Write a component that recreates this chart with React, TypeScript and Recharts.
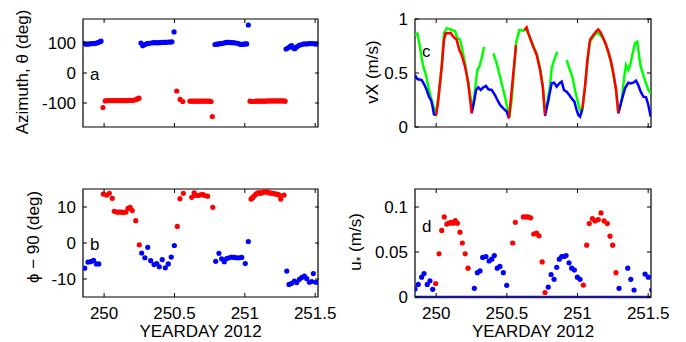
import React from 'react';
import { ScatterChart, Scatter, LineChart, Line, XAxis, YAxis, ReferenceArea, ReferenceLine } from 'recharts';

// x axis shared by all four panels
const DAY_DOMAIN: [number, number] = [249.85, 251.52];
const dayTicks = [250, 250.5, 251, 251.5];

// y ticks per panel
const azTicks = [-100, 0, 100];
const phiTicks = [-10, 0, 10];
const vxTicks = [0, 0.5, 1];
const uTicks = [0, 0.05, 0.1];

// panel a: azimuth (deg), [yearday, value]
const azBlue = [
  [249.85, 99], [249.865, 97], [249.88, 96], [249.895, 97], [249.91, 98], [249.925, 98], [249.94, 99], [249.955, 101], [249.968, 104], [249.978, 106],
  [250.262, 100], [250.275, 91], [250.29, 95], [250.305, 98], [250.32, 99], [250.335, 100], [250.35, 101], [250.365, 101], [250.38, 101], [250.395, 101],
  [250.41, 102], [250.425, 102], [250.44, 102], [250.455, 103], [250.47, 103], [250.482, 104], [250.497, 137],
  [250.788, 95], [250.802, 96], [250.816, 97], [250.83, 98], [250.845, 99], [250.86, 101], [250.875, 102], [250.89, 102], [250.905, 101], [250.92, 101],
  [250.935, 100], [250.95, 99], [250.965, 96], [250.978, 95], [250.99, 96], [251.003, 97], [251.013, 97], [251.025, 160],
  [251.293, 80], [251.309, 84], [251.322, 89], [251.333, 91], [251.345, 83], [251.355, 81], [251.369, 87], [251.385, 92], [251.404, 95], [251.42, 97],
  [251.44, 97], [251.455, 98], [251.47, 98], [251.485, 98], [251.5, 97], [251.515, 97],
];
const azRed = [
  [249.992, -115], [250.008, -93], [250.022, -92], [250.036, -92], [250.05, -92], [250.064, -92], [250.078, -92], [250.092, -92], [250.106, -92], [250.12, -92],
  [250.134, -92], [250.148, -92], [250.162, -92], [250.176, -91], [250.19, -91], [250.204, -91], [250.218, -90], [250.23, -88], [250.24, -85], [250.248, -84],
  [250.516, -60], [250.54, -88], [250.559, -95],
  [250.61, -94], [250.624, -94], [250.638, -94], [250.652, -94], [250.666, -94], [250.68, -94], [250.694, -94], [250.708, -94], [250.722, -94], [250.736, -94],
  [250.75, -94], [250.76, -95], [250.769, -145],
  [251.037, -94], [251.051, -95], [251.065, -95], [251.079, -94], [251.093, -94], [251.107, -94], [251.121, -94], [251.135, -94], [251.149, -94], [251.163, -93],
  [251.177, -93], [251.191, -93], [251.205, -93], [251.219, -93], [251.233, -93], [251.247, -93], [251.261, -93], [251.275, -93], [251.286, -94],
];

// panel b: phi - 90 (deg)
const phiBlue = [
  [249.862, -7.0], [249.885, -5.3], [249.905, -5.2], [249.925, -4.8], [249.945, -5.8], [249.962, -5.8],
  [250.267, -2.8], [250.29, -4.1], [250.31, -1.2], [250.331, -4.9], [250.355, -6.0], [250.374, -5.7], [250.392, -6.6], [250.413, -4.6], [250.435, -6.9],
  [250.456, -5.8], [250.477, -3.9], [250.499, -0.7],
  [250.793, -5.1], [250.816, -2.9], [250.835, -4.4], [250.854, -5.2], [250.871, -4.3], [250.889, -4.1], [250.906, -3.9], [250.925, -4.0], [250.942, -4.1],
  [250.961, -4.1], [250.978, -4.0], [251.003, -5.7], [251.025, 0.4],
  [251.298, -7.8], [251.314, -11.5], [251.333, -11.2], [251.352, -10.6], [251.369, -11.0], [251.388, -10.1], [251.404, -9.6], [251.423, -9.2], [251.44, -9.9],
  [251.459, -10.9], [251.476, -10.7], [251.487, -8.5], [251.506, -10.9], [251.522, -10.9],
];
const phiRed = [
  [249.994, 13.6], [250.018, 13.3], [250.037, 13.8], [250.058, 12.4],
  [250.072, 8.8], [250.09, 8.6], [250.105, 8.6], [250.12, 8.6], [250.135, 8.5], [250.155, 8.6], [250.17, 9.6], [250.185, 9.9], [250.2, 9.0], [250.225, 6.2],
  [250.25, -0.5],
  [250.52, 4.6], [250.539, 12.3], [250.563, 13.8], [250.623, 12.7], [250.64, 13.9], [250.655, 13.2], [250.67, 13.2], [250.685, 13.4], [250.7, 13.5],
  [250.715, 13.2], [250.735, 13.0], [250.772, 9.9],
  [251.044, 12.2], [251.052, 12.4], [251.06, 12.8], [251.07, 13.2], [251.079, 13.6], [251.088, 13.8], [251.096, 13.9], [251.105, 13.9], [251.113, 13.8],
  [251.124, 14.0], [251.136, 14.2], [251.148, 14.2], [251.16, 14.2], [251.17, 14.0], [251.179, 13.9], [251.19, 13.8], [251.198, 13.8], [251.21, 13.7],
  [251.222, 13.6], [251.233, 13.5], [251.245, 13.3], [251.255, 12.2], [251.279, 13.3],
];

// panel c: vX (m/s), null = gap in the line
const vxBlue = [
  [249.85, 0.481], [249.867, 0.444], [249.897, 0.435], [249.914, 0.398], [249.933, 0.343], [249.949, 0.281], [249.963, 0.25], [249.975, 0.188], [249.984, 0.117], [250.0, 0.111],
  [250.1, null],
  [250.251, 0.127], [250.27, 0.25], [250.282, 0.343], [250.298, 0.367], [250.315, 0.343], [250.334, 0.367], [250.352, 0.38], [250.369, 0.349], [250.393, 0.343],
  [250.416, 0.296], [250.433, 0.25], [250.452, 0.204], [250.475, 0.173], [250.499, 0.142], [250.515, 0.08],
  [250.6, null],
  [250.77, 0.102], [250.794, 0.25], [250.817, 0.404], [250.834, 0.41], [250.853, 0.373], [250.871, 0.404], [250.888, 0.42], [250.904, 0.343], [250.923, 0.327],
  [250.942, 0.296], [250.959, 0.265], [250.978, 0.235], [250.994, 0.157], [251.006, 0.111], [251.018, 0.096], [251.034, 0.164],
  [251.15, null],
  [251.289, 0.127], [251.313, 0.25], [251.336, 0.358], [251.36, 0.41], [251.376, 0.404], [251.395, 0.41], [251.414, 0.429], [251.43, 0.389], [251.447, 0.327],
  [251.466, 0.281], [251.485, 0.275], [251.501, 0.204], [251.518, 0.096],
];
const vxRed = [
  [250.0, 0.111], [250.015, 0.25], [250.039, 0.559], [250.055, 0.806], [250.067, 0.867], [250.086, 0.867], [250.102, 0.873], [250.121, 0.836], [250.145, 0.806],
  [250.164, 0.713], [250.18, 0.667], [250.204, 0.559], [250.227, 0.404], [250.251, 0.127],
  [250.4, null],
  [250.515, 0.08], [250.565, 0.759],
  [250.6, null],
  [250.624, 0.898], [250.64, 0.923], [250.652, 0.867], [250.669, 0.806], [250.687, 0.744], [250.711, 0.667], [250.735, 0.528], [250.754, 0.373], [250.77, 0.111],
  [250.9, null],
  [251.034, 0.164], [251.053, 0.373], [251.07, 0.62], [251.088, 0.806], [251.112, 0.852], [251.131, 0.883], [251.147, 0.904], [251.164, 0.873], [251.183, 0.821],
  [251.202, 0.759], [251.218, 0.698], [251.235, 0.62], [251.254, 0.497], [251.273, 0.343], [251.289, 0.127],
];
const vxGreen = [
  [249.85, 0.852], [249.867, 0.867], [249.885, 0.744], [249.897, 0.636], [249.909, 0.559], [249.928, 0.481], [249.944, 0.373], [249.961, 0.281], [249.98, 0.188],
  [249.999, 0.127], [250.015, 0.281], [250.039, 0.559], [250.055, 0.867], [250.074, 0.914], [250.102, 0.904], [250.133, 0.889], [250.15, 0.821], [250.168, 0.812],
  [250.18, 0.744], [250.204, 0.59], [250.227, 0.404], [250.246, 0.25], [250.258, 0.157], [250.275, 0.343], [250.291, 0.528], [250.305, 0.559], [250.322, 0.636],
  [250.338, 0.744],
  [250.37, null],
  [250.404, 0.682], [250.428, 0.59], [250.452, 0.466], [250.463, 0.404], [250.475, 0.343], [250.492, 0.25], [250.506, 0.157], [250.518, 0.09], [250.534, 0.25],
  [250.565, 0.775], [250.588, 0.898], [250.617, 0.892], [250.633, 0.904], [250.652, 0.867], [250.669, 0.812], [250.687, 0.744], [250.711, 0.682], [250.735, 0.543],
  [250.754, 0.389], [250.77, 0.127], [250.782, 0.188], [250.805, 0.373], [250.817, 0.543], [250.834, 0.62], [250.857, 0.698],
  [250.89, null],
  [250.923, 0.62], [250.942, 0.543], [250.963, 0.466], [250.982, 0.343], [250.999, 0.25], [251.018, 0.157], [251.034, 0.164], [251.053, 0.367], [251.07, 0.605],
  [251.088, 0.79], [251.112, 0.836], [251.131, 0.867], [251.147, 0.867], [251.164, 0.852], [251.183, 0.812], [251.202, 0.759], [251.218, 0.682], [251.235, 0.605],
  [251.254, 0.481], [251.273, 0.336], [251.289, 0.127], [251.313, 0.25], [251.331, 0.466], [251.343, 0.574], [251.36, 0.528], [251.376, 0.59], [251.39, 0.682],
  [251.407, 0.775], [251.423, 0.79], [251.438, 0.636], [251.447, 0.559], [251.466, 0.481], [251.485, 0.404], [251.501, 0.343], [251.518, 0.312],
];

// panel d: u* (m/s)
const uBlue = [
  [249.85, 0.009], [249.873, 0.014], [249.897, 0.022], [249.914, 0.026], [249.937, 0.014], [249.956, 0.018], [249.975, 0.0085],
  [250.27, 0.0096], [250.291, 0.027], [250.31, 0.029], [250.329, 0.044], [250.352, 0.045], [250.374, 0.04], [250.393, 0.042], [250.411, 0.046], [250.432, 0.032],
  [250.451, 0.034], [250.475, 0.027], [250.499, 0.013],
  [250.793, 0.011], [250.813, 0.025], [250.834, 0.0196], [250.853, 0.033], [250.871, 0.042], [250.888, 0.045], [250.904, 0.045], [250.919, 0.046], [250.94, 0.038],
  [250.959, 0.032], [250.978, 0.03], [250.999, 0.022], [251.018, 0.0196],
  [251.294, 0.0096], [251.355, 0.032], [251.377, 0.0196], [251.4, 0.0078], [251.478, 0.0255], [251.501, 0.022], [251.525, 0.0078],
];
const uRed = [
  [249.996, 0.015], [250.02, 0.048], [250.039, 0.074], [250.057, 0.089], [250.075, 0.081], [250.09, 0.082], [250.105, 0.083], [250.12, 0.082], [250.135, 0.085],
  [250.15, 0.082], [250.168, 0.072], [250.185, 0.06], [250.205, 0.048], [250.225, 0.032],
  [250.541, 0.06], [250.56, 0.083], [250.617, 0.089], [250.634, 0.089], [250.65, 0.089], [250.668, 0.088], [250.69, 0.07], [250.71, 0.071], [250.727, 0.068],
  [250.75, 0.039], [250.77, 0.005],
  [251.041, 0.0133], [251.065, 0.0576], [251.083, 0.0816], [251.105, 0.087], [251.124, 0.0845], [251.147, 0.086], [251.166, 0.0934], [251.188, 0.0845],
  [251.211, 0.0816], [251.23, 0.0676], [251.249, 0.0576], [251.272, 0.027],
];

const pts = (a: (number | null)[][]) => a.map(([t, v]) => ({ t, v }));

const BLUE = '#0000ff';
const RED = '#ff0000';
const GREEN = '#00ff00';
const FS = 17;
const PW = 236;
const PH = 108;

const dot = (color: string) => (p: any) => <circle cx={p.cx} cy={p.cy} r={2.6} fill={color} />;

const yTick = (fmt: (v: number) => string) => (p: any) => {
  const ax = p.x + 7;
  return (
    <g>
      <line x1={ax} y1={p.y} x2={ax + 4} y2={p.y} stroke="#000" />
      <line x1={ax + PW - 4} y1={p.y} x2={ax + PW} y2={p.y} stroke="#000" />
      <text x={p.x} y={p.y} dy="0.36em" textAnchor="end" fontSize={FS} fill="#000">{fmt(p.payload.value)}</text>
    </g>
  );
};

const xTick = (labels: boolean) => (p: any) => {
  const ay = p.y - (labels ? 10 : 0);
  return (
    <g>
      <line x1={p.x} y1={ay} x2={p.x} y2={ay - 4} stroke="#000" />
      <line x1={p.x} y1={ay - PH} x2={p.x} y2={ay - PH + 4} stroke="#000" />
      {labels && <text x={p.x} y={p.y} dy="0.71em" textAnchor="middle" fontSize={FS} fill="#000">{p.payload.value}</text>}
    </g>
  );
};

const axes = (bottom: boolean, yDomain: [number, number], yTicks: number[], fmt: (v: number) => string) => [
  <XAxis key="x" type="number" dataKey="t" domain={DAY_DOMAIN} allowDataOverflow ticks={dayTicks} interval={0}
    height={bottom ? 45 : 4} axisLine={false} tickLine={false} tickSize={0} tickMargin={bottom ? 10 : 0} tick={xTick(bottom)} />,
  <YAxis key="y" type="number" dataKey="v" domain={yDomain} allowDataOverflow ticks={yTicks} interval={0}
    width={83} axisLine={false} tickLine={false} tickSize={0} tickMargin={7} tick={yTick(fmt)} />,
];

const box = (yDomain: [number, number]) => (
  <ReferenceArea x1={DAY_DOMAIN[0]} x2={DAY_DOMAIN[1]} y1={yDomain[0]} y2={yDomain[1]}
    fill="none" stroke="#000" strokeWidth={1.2} ifOverflow="visible" />
);

const str = (v: number) => String(v);

const AZ_DOMAIN: [number, number] = [-180, 180];
const PHI_DOMAIN: [number, number] = [-15, 15];
const VX_DOMAIN: [number, number] = [0, 1];
const U_DOMAIN: [number, number] = [0, 0.12];

const topL = { top: 19, right: 32, bottom: 19, left: 0 };
const botL = { top: 19, right: 32, bottom: 0, left: 0 };
const topR = { top: 19, right: 35, bottom: 19, left: 0 };
const botR = { top: 19, right: 35, bottom: 0, left: 0 };

export default function App() {
  return (
    <div style={{ position: 'absolute', left: 0, top: 0, width: 686, height: 342, background: '#fff', overflow: 'hidden', fontFamily: '"Liberation Sans", Arial, sans-serif' }}>
      <div style={{ position: 'absolute', left: 0, top: 0 }}>
        <ScatterChart width={350} height={150} margin={topL}>
          {axes(false, AZ_DOMAIN, azTicks, str)}
          <Scatter data={pts(azBlue)} shape={dot(BLUE)} isAnimationActive={false} />
          <Scatter data={pts(azRed)} shape={dot(RED)} isAnimationActive={false} />
          {box(AZ_DOMAIN)}
        </ScatterChart>
      </div>
      <div style={{ position: 'absolute', left: 0, top: 170 }}>
        <ScatterChart width={350} height={172} margin={botL}>
          {axes(true, PHI_DOMAIN, phiTicks, str)}
          <Scatter data={pts(phiBlue)} shape={dot(BLUE)} isAnimationActive={false} />
          <Scatter data={pts(phiRed)} shape={dot(RED)} isAnimationActive={false} />
          {box(PHI_DOMAIN)}
        </ScatterChart>
      </div>
      <div style={{ position: 'absolute', left: 332, top: 0 }}>
        <LineChart width={354} height={150} margin={topR}>
          {axes(false, VX_DOMAIN, vxTicks, str)}
          <Line data={pts(vxGreen)} dataKey="v" stroke={GREEN} strokeWidth={2.5} dot={false} connectNulls={false} isAnimationActive={false} />
          <Line data={pts(vxBlue)} dataKey="v" stroke={BLUE} strokeWidth={2.5} dot={false} connectNulls={false} isAnimationActive={false} />
          <Line data={pts(vxRed)} dataKey="v" stroke={RED} strokeWidth={2.5} dot={false} connectNulls={false} isAnimationActive={false} />
          {box(VX_DOMAIN)}
        </LineChart>
      </div>
      <div style={{ position: 'absolute', left: 332, top: 170 }}>
        <ScatterChart width={354} height={172} margin={botR}>
          {axes(true, U_DOMAIN, uTicks, str)}
          <ReferenceLine y={0} stroke="#1a1a90" strokeWidth={2.5} />
          <Scatter data={pts(uBlue)} shape={dot(BLUE)} isAnimationActive={false} />
          <Scatter data={pts(uRed)} shape={dot(RED)} isAnimationActive={false} />
          {box(U_DOMAIN)}
        </ScatterChart>
      </div>
      <svg width={686} height={342} style={{ position: 'absolute', left: 0, top: 0, pointerEvents: 'none' }}>
        <g fontSize={FS} fill="#000">
          <text x={90} y={80}>a</text>
          <text x={90} y={250}>b</text>
          <text x={422} y={57}>c</text>
          <text x={422} y={232}>d</text>
          <text x={200.5} y={337} textAnchor="middle">YEARDAY 2012</text>
          <text x={533} y={337} textAnchor="middle">YEARDAY 2012</text>
          <text transform="translate(22,72) rotate(-90)" textAnchor="middle" dy="0.35em">Azimuth, θ (deg)</text>
          <text transform="translate(33,237) rotate(-90)" textAnchor="middle" dy="0.35em">ϕ − 90 (deg)</text>
          <text transform="translate(372,72) rotate(-90)" textAnchor="middle" dy="0.35em">vX (m/s)</text>
          <text transform="translate(355,242) rotate(-90)" textAnchor="middle" dy="0.35em">u<tspan fontSize={12} dy={4}>*</tspan><tspan dy={-4}> (m/s)</tspan></text>
        </g>
      </svg>
    </div>
  );
}
